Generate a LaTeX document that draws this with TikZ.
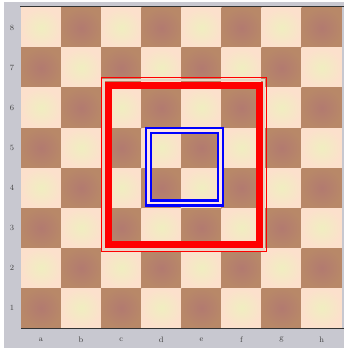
\documentclass[tikz,border=0pt]{standalone}
\usepackage{tikz}
\definecolor{sqLight}{RGB}{252,224,204}
\definecolor{sqLightMid}{RGB}{240,238,192}
\definecolor{sqDark}{RGB}{184,136,104}
\definecolor{sqDarkMid}{RGB}{178,122,112}
\definecolor{rimGray}{RGB}{200,200,208}
\definecolor{gapTint}{RGB}{232,212,198}

\begin{document}
\begin{tikzpicture}[x=1pt,y=-1pt,
  lightsq/.style={inner color=sqLightMid, outer color=sqLight},
  darksq/.style={inner color=sqDarkMid, outer color=sqDark},
  coordlabel/.style={font=\footnotesize, text=black!75, inner sep=0pt},
  edge/.style={draw=black!80, line width=1.8pt},
  redthin/.style={draw=red, line width=1.9pt},
  redthick/.style={draw=red, line width=7pt},
  redgap/.style={draw=gapTint, line width=2.4pt},
  bluebox/.style={draw=blue, line width=2.3pt, double=white!90!red, double distance=2.7pt}
]
  \useasboundingbox (0,0) rectangle (344,350);
  \fill[white] (0,0) rectangle (344,350);
  \fill[rimGray] (4,2) rectangle (344,348);
  % board squares, a8 light
  \foreach \c in {0,...,7}{
    \foreach \r in {0,...,7}{
      \pgfmathsetmacro\sx{21+40.1*\c}
      \pgfmathsetmacro\sy{8+40*\r}
      \pgfmathtruncatemacro\odd{mod(\c+\r,2)}
      \ifnum\odd=0
        \shade[lightsq] (\sx,\sy) rectangle ++(40.1,40);
      \else
        \shade[darksq] (\sx,\sy) rectangle ++(40.1,40);
      \fi
    }
  }
  \draw[edge] (20,6.5) -- (344,6.5);
  \draw[edge] (21,328.5) -- (344,328.5);
  % ranks and files
  \foreach \r in {1,...,8}
    \node[coordlabel] (rank\r) at (12,348-40*\r) {\r};
  \foreach \f [count=\i from 0] in {a,b,c,d,e,f,g,h}
    \node[coordlabel] (file\f) at (41+40.1*\i,340) {\f};
  % red frame
  \draw[redthin] (101.5,77.5) rectangle (266.5,251.5);
  \draw[redgap] (103.6,80) rectangle (264.2,249.5);
  \draw[redthick] (108.5,85.5) rectangle (259.4,244.5);
  % blue frame
  \draw[bluebox] (148.5,130.5) rectangle (220.5,203);
\end{tikzpicture}
\end{document}
